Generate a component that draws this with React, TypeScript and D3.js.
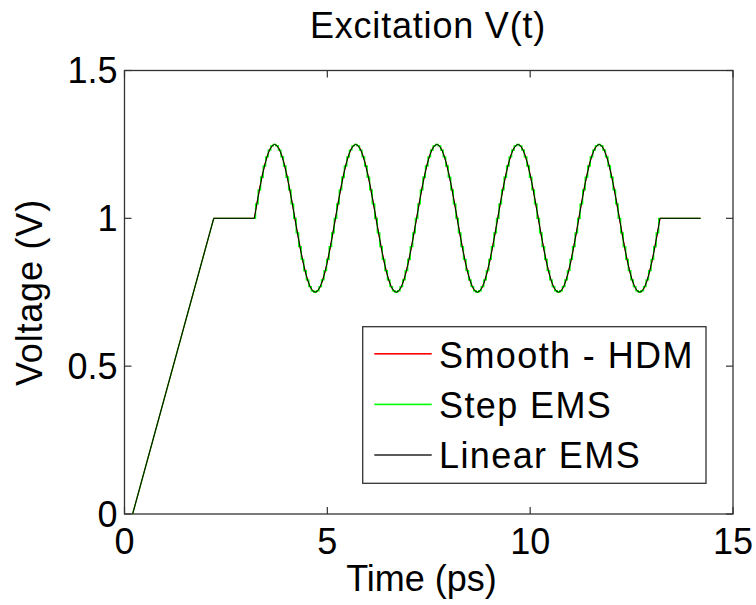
import React from 'react'
import * as d3 from 'd3'

const W = 756
const H = 605
const LEFT = 124.5
const RIGHT = 733
const TOP = 70.5
const BOTTOM = 514

// ramp + flat lead-in (time in ps, voltage in V)
const leadTimes = [0.2, 2.2, 3.2]
const leadVolts = [0, 1, 1]

// one 2 ps sine cycle, 32 samples (1 +/- 0.25 V)
const cyclePeriod = 2
const cycleVolts = [
  1, 1.049, 1.096, 1.139, 1.177, 1.208, 1.231, 1.245,
  1.25, 1.245, 1.231, 1.208, 1.177, 1.139, 1.096, 1.049,
  1, 0.951, 0.904, 0.861, 0.823, 0.792, 0.769, 0.755,
  0.75, 0.755, 0.769, 0.792, 0.823, 0.861, 0.904, 0.951
]
const cycleStarts = [3.2, 5.2, 7.2, 9.2, 11.2]

// flat tail
const tailTimes = [13.2, 14.2]
const tailVolts = [1, 1]

const xTicks = [0, 5, 10, 15]
const yTicks = [0, 0.5, 1, 1.5]
const yTickLabels = ['0', '0.5', '1', '1.5']

const seriesNames = ['Smooth - HDM', 'Step EMS', 'Linear EMS']
const seriesColors = ['#ff0000', '#00ff00', '#000000']
const legendColors = ['#ff0000', '#00ff00', '#333333']

const FONT = '"Liberation Sans", Arial, Helvetica, sans-serif'

type Pt = [number, number]

const leadPts: Pt[] = leadTimes.map((t, i) => [t, leadVolts[i]])
const tailPts: Pt[] = tailTimes.map((t, i) => [t, tailVolts[i]])

const buildCycles = (): Pt[] => {
  const pts: Pt[] = []
  cycleStarts.forEach(start => {
    cycleVolts.forEach((v, i) => {
      pts.push([start + (i * cyclePeriod) / cycleVolts.length, v])
    })
  })
  pts.push(tailPts[0])
  return pts
}

const App = () => {
  const x = d3.scaleLinear().domain([0, 15]).range([LEFT, RIGHT])
  const y = d3.scaleLinear().domain([0, 1.5]).range([BOTTOM, TOP])
  const cycles = buildCycles()

  const lineOf = (c: d3.CurveFactory) =>
    d3
      .line<Pt>()
      .x(d => x(d[0]))
      .y(d => y(d[1]))
      .curve(c)

  const straight = lineOf(d3.curveLinear)
  const curves = [d3.curveMonotoneX, d3.curveStep, d3.curveLinear]
  const widths = [1.2, 1.3, 1.0]

  const tickLen = 7
  const axisColor = '#333'

  return (
    <svg
      width={W}
      height={H}
      style={{ position: 'absolute', left: 0, top: 0, background: '#fff' }}
      fontFamily={FONT}
    >
      <rect x={0} y={0} width={W} height={H} fill="#fff" />

      {/* data lines, black drawn last */}
      {curves.map((c, i) => (
        <g key={i} fill="none" stroke={seriesColors[i]} strokeWidth={widths[i]}>
          <path d={straight(leadPts) || ''} />
          <path d={lineOf(c)(cycles) || ''} />
          <path d={straight(tailPts) || ''} />
        </g>
      ))}

      {/* box */}
      <rect
        x={LEFT}
        y={TOP}
        width={RIGHT - LEFT}
        height={BOTTOM - TOP}
        fill="none"
        stroke={axisColor}
        strokeWidth={1.3}
      />

      {/* ticks on all four sides */}
      {xTicks.map(t => (
        <g key={'x' + t}>
          <line x1={x(t)} x2={x(t)} y1={BOTTOM} y2={BOTTOM - tickLen} stroke={axisColor} strokeWidth={1.2} />
          <line x1={x(t)} x2={x(t)} y1={TOP} y2={TOP + tickLen} stroke={axisColor} strokeWidth={1.2} />
          <text x={x(t)} y={553.5} fontSize={36} textAnchor="middle" fill="#000">
            {t}
          </text>
        </g>
      ))}
      {yTicks.map((t, i) => (
        <g key={'y' + t}>
          <line x1={LEFT} x2={LEFT + tickLen} y1={y(t)} y2={y(t)} stroke={axisColor} strokeWidth={1.2} />
          <line x1={RIGHT} x2={RIGHT - tickLen} y1={y(t)} y2={y(t)} stroke={axisColor} strokeWidth={1.2} />
          <text x={117.5} y={y(t)} dy="0.36em" fontSize={36} textAnchor="end" fill="#000">
            {yTickLabels[i]}
          </text>
        </g>
      ))}

      {/* title and axis labels */}
      <text x={428} y={37.5} fontSize={36} textAnchor="middle" letterSpacing={0.8} fill="#000">
        Excitation V(t)
      </text>
      <text x={421.5} y={590.5} fontSize={36} textAnchor="middle" fill="#000">
        Time (ps)
      </text>
      <text
        transform={`translate(42,292.5) rotate(-90)`}
        fontSize={36}
        textAnchor="middle"
        letterSpacing={0.8}
        fill="#000"
      >
        Voltage (V)
      </text>

      {/* legend */}
      <g>
        <rect x={362.7} y={326.7} width={343.3} height={156.6} fill="#fff" stroke={axisColor} strokeWidth={1.3} />
        {seriesNames.map((name, i) => (
          <g key={name}>
            <rect
              x={374.3}
              y={353 + i * 50.6}
              width={57.4}
              height={1.6}
              fill={legendColors[i]}
            />
            <text x={439} y={367.8 + i * 50.3} fontSize={36} letterSpacing={1.4} fill="#000">
              {name}
            </text>
          </g>
        ))}
      </g>
    </svg>
  )
}

export default App
